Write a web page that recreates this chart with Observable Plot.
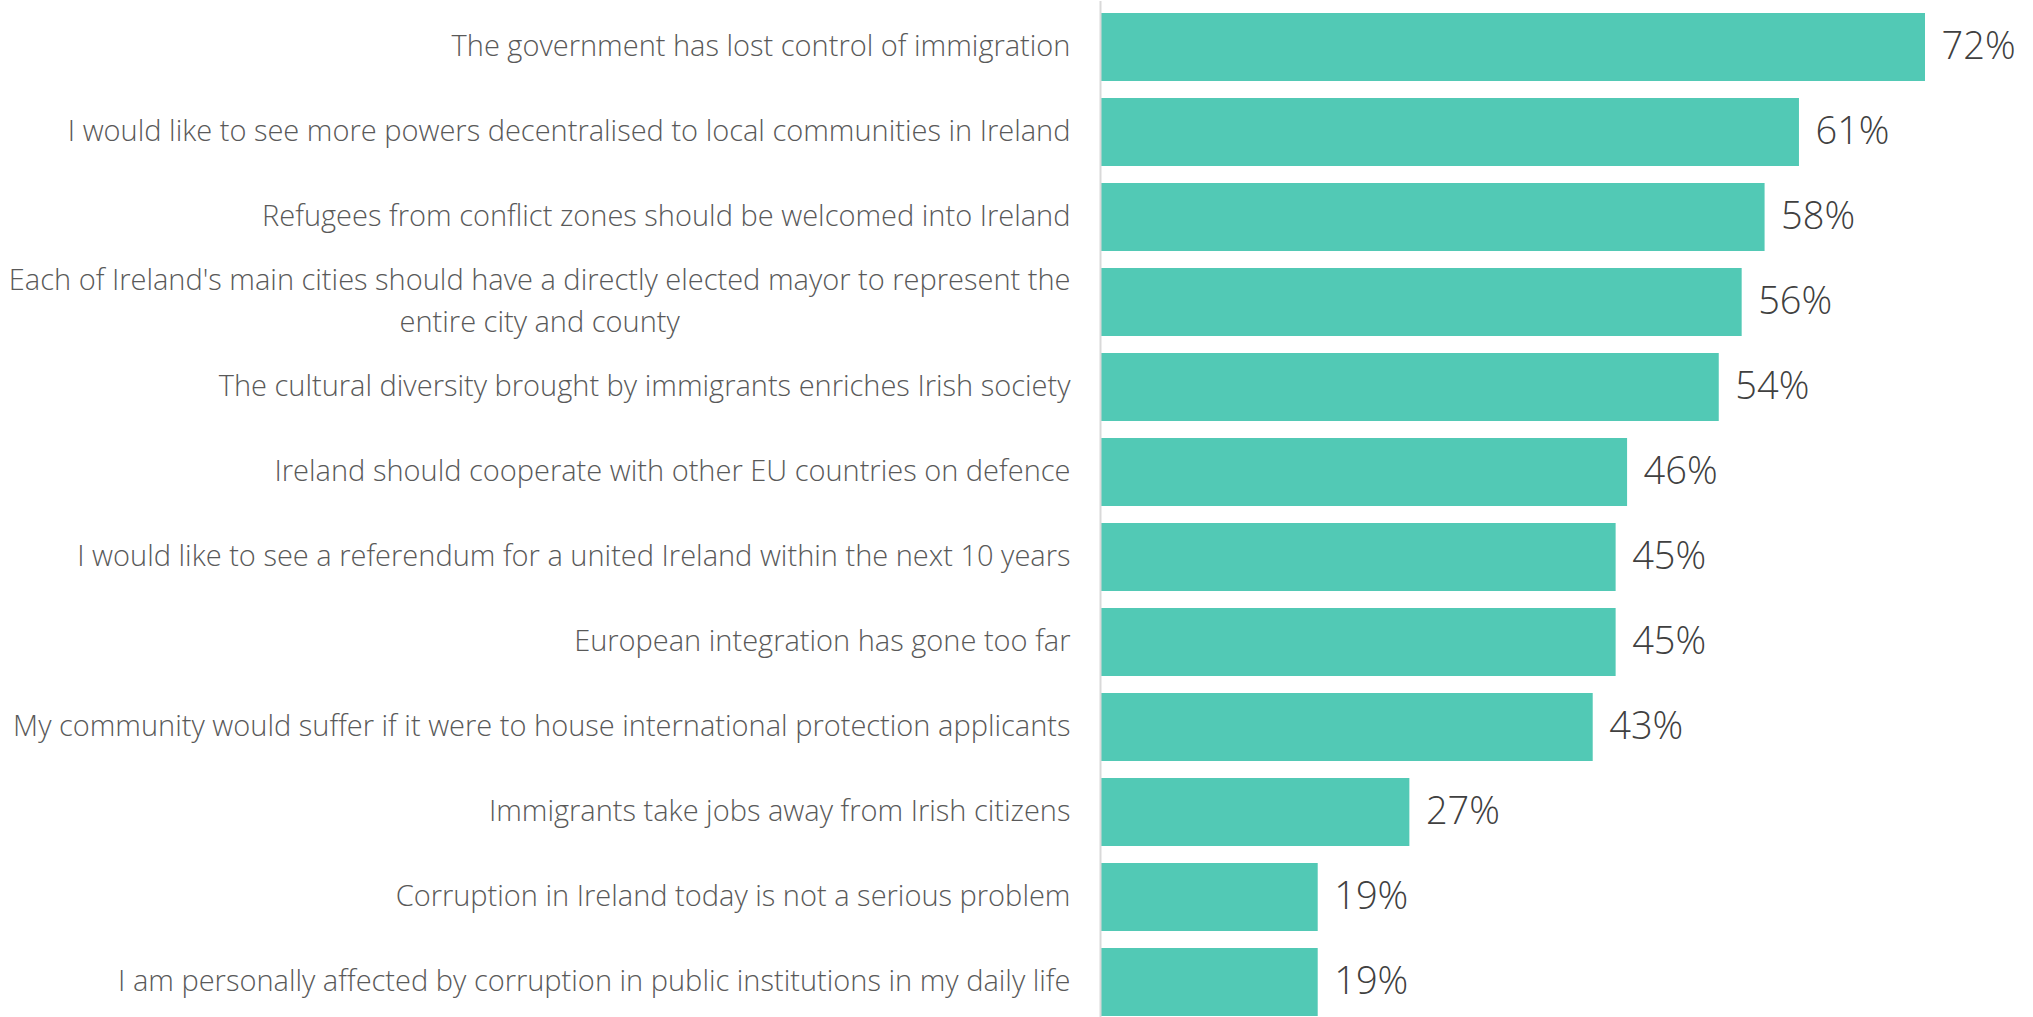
<!DOCTYPE html>
<html>
<head>
<meta charset="utf-8">
<script src="https://cdn.jsdelivr.net/npm/d3@7"></script>
<script src="https://cdn.jsdelivr.net/npm/@observablehq/plot@0.6"></script>
<style>
  html, body { margin: 0; padding: 0; background: #ffffff; }
  #chart { width: 2033px; height: 1017px; overflow: hidden; }
</style>
</head>
<body>
<div id="chart"></div>
<script>
const categories = [
  "The government has lost control of immigration",
  "I would like to see more powers decentralised to local communities in Ireland",
  "Refugees from conflict zones should be welcomed into Ireland",
  "Each of Ireland's main cities should have a directly elected mayor to represent the\nentire city and county",
  "The cultural diversity brought by immigrants enriches Irish society",
  "Ireland should cooperate with other EU countries on defence",
  "I would like to see a referendum for a united Ireland within the next 10 years",
  "European integration has gone too far",
  "My community would suffer if it were to house international protection applicants",
  "Immigrants take jobs away from Irish citizens",
  "Corruption in Ireland today is not a serious problem",
  "I am personally affected by corruption in public institutions in my daily life"
];
const values = [72, 61, 58, 56, 54, 46, 45, 45, 43, 27, 19, 19];

const data = categories.map((c, i) => ({category: c, value: values[i]}));

const FONT = "'Open Sans', 'Liberation Sans', sans-serif";

const plot = Plot.plot({
  width: 2033,
  height: 1017,
  marginLeft: 1100,
  marginRight: 108,
  marginTop: 1,
  marginBottom: 0,
  style: {fontFamily: FONT, background: "#ffffff", overflow: "hidden"},
  x: {domain: [0, 72], axis: null},
  y: {domain: categories, range: [1.3, 1026.7], paddingInner: 0.204, paddingOuter: 0.102, axis: null},
  marks: [
    Plot.barX(data, {x: "value", y: "category", fill: "#52c9b5"}),
    Plot.ruleX([0], {stroke: "#d9d9d9", strokeWidth: 2}),
    Plot.text(data, {
      x: 0, y: "category", text: "category",
      textAnchor: "end", dx: -30, dy: -5,
      fill: "#595959", fontSize: 29, fontWeight: 300, lineHeight: 1.43,
      className: "cat-labels"
    }),
    Plot.text(data, {
      x: "value", y: "category", text: d => d.value + "%",
      textAnchor: "start", dx: 16, dy: -1,
      fill: "#404040", fontSize: 38, fontWeight: 300
    })
  ]
});

document.getElementById("chart").appendChild(plot);

// center the lines of wrapped category labels within their right-aligned block
plot.querySelectorAll(".cat-labels text").forEach(t => {
  const spans = t.querySelectorAll("tspan");
  if (spans.length > 1) {
    let maxW = 0;
    spans.forEach(s => { maxW = Math.max(maxW, s.getComputedTextLength()); });
    t.setAttribute("text-anchor", "middle");
    spans.forEach(s => s.setAttribute("x", -maxW / 2));
  }
});
</script>
</body>
</html>
